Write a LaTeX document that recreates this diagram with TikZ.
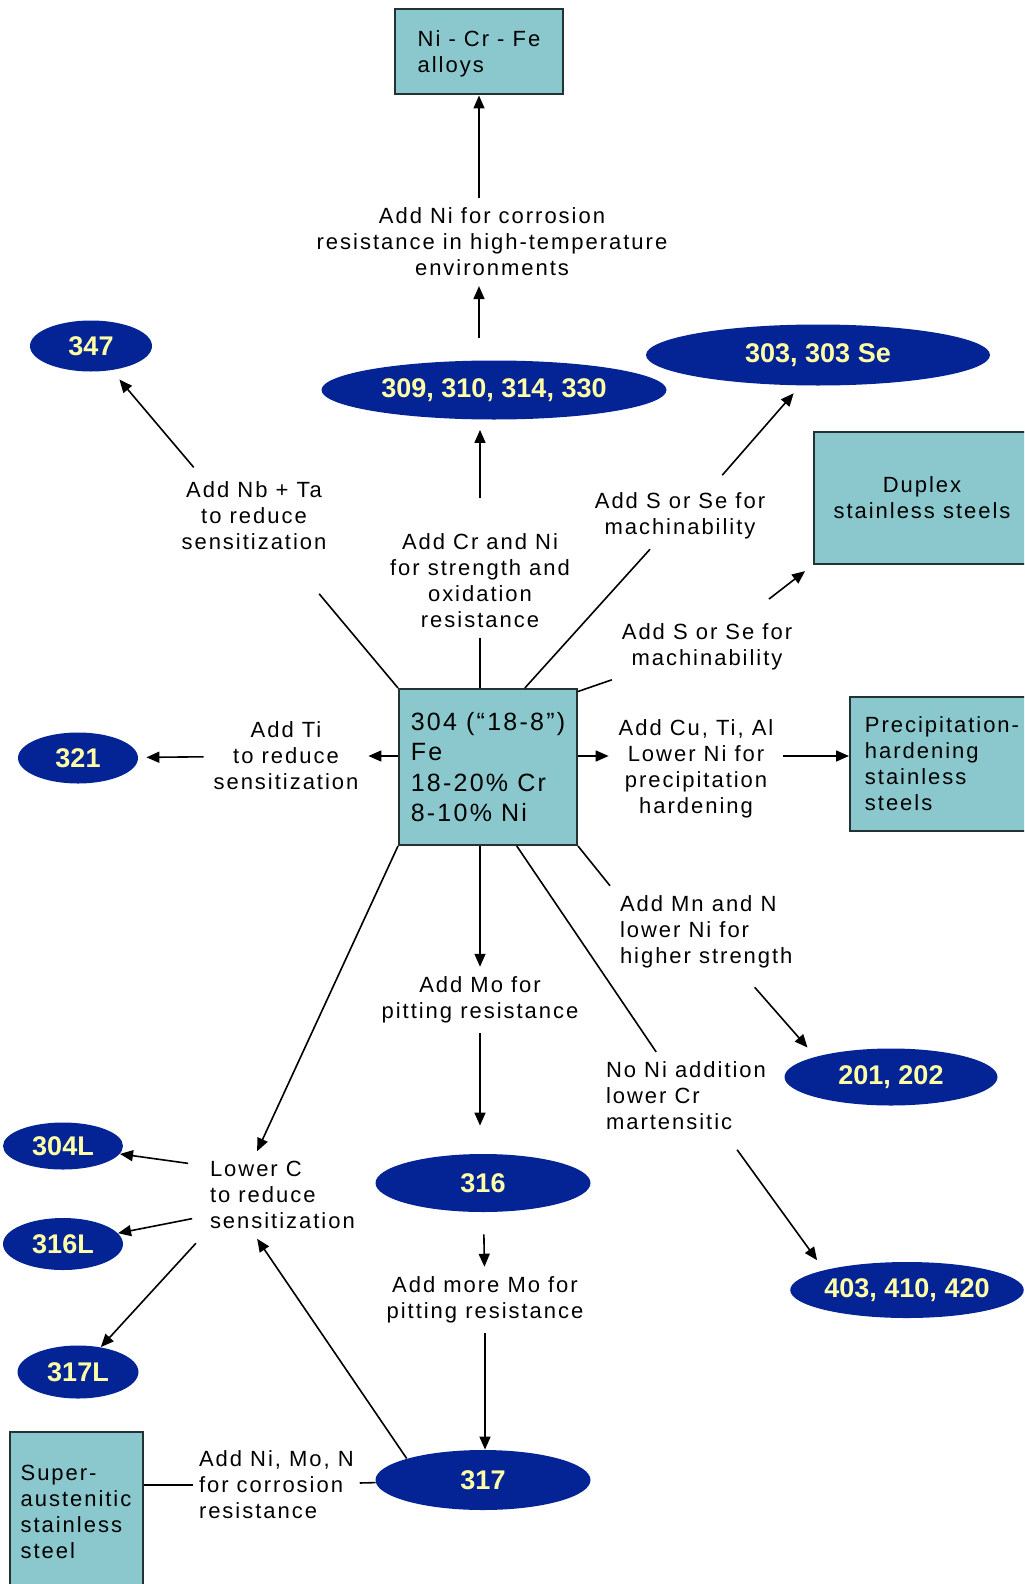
\documentclass[tikz,border=0pt]{standalone}
\usepackage{fontspec}
\setmainfont{Liberation Sans}
\newfontfamily\labfont[LetterSpace=9]{Liberation Sans}
\usetikzlibrary{shapes.geometric,arrows.meta,positioning,calc}
\definecolor{boxfill}{RGB}{138,200,205}
\definecolor{boxline}{RGB}{35,50,50}
\definecolor{navy}{RGB}{4,36,150}
\definecolor{numtext}{RGB}{255,255,165}
\tikzset{
  lab/.style={font=\labfont\fontsize{11}{13}\selectfont, align=center, inner sep=0pt, outer sep=5pt},
  alloy/.style={draw=boxline, fill=boxfill, line width=1pt, font=\labfont\fontsize{11}{13}\selectfont, inner sep=4pt},
  grade/.style={ellipse, fill=navy, text=numtext, font=\bfseries\fontsize{13.5}{15}\selectfont, inner sep=0pt},
  arr/.style={-{Triangle[length=6.5pt,width=5.5pt]}, line width=0.8pt},
  ln/.style={line width=0.8pt}
}
\begin{document}
\begin{tikzpicture}[x=0.5pt, y=-0.5pt]
\clip (0,0) rectangle (1024,1584);
\node[alloy, minimum width=84pt, minimum height=42.5pt, align=left, text depth=-7pt] (ni) at (479,52) {Ni - Cr - Fe\\alloys};
\node[alloy, minimum width=89pt, minimum height=78pt, align=left, font=\labfont\fontsize{12.5}{15.3}\selectfont] (c) at (488,767) {304 (“18-8”)\\Fe\\18-20\% Cr\\8-10\% Ni};
\node[alloy, minimum width=108pt, minimum height=66pt, align=center] (dup) at (922,498) {Duplex\\stainless steels};
\node[alloy, minimum width=92pt, minimum height=67pt, align=left] (pre) at (942,764) {Precipitation-\\hardening\\stainless\\steels};
\node[alloy, minimum width=66.5pt, minimum height=80pt, align=left] (sa) at (76,1512) {Super-\\austenitic\\stainless\\steel};

\node[grade, minimum width=61pt, minimum height=25.5pt] (n347) at (91,346) {347};
\node[grade, minimum width=172.5pt, minimum height=29.5pt] (e309) at (494,390) {309, 310, 314, 330};
\node[grade, minimum width=172pt, minimum height=30.5pt] (e303) at (818,355) {303, 303 Se};
\node[grade, minimum width=60pt, minimum height=25.5pt] (n321) at (78,758) {321};
\node[grade, minimum width=106.5pt, minimum height=28.5pt] (e201) at (891,1077) {201, 202};
\node[grade, minimum width=107.5pt, minimum height=28pt] (e403) at (907,1290) {403, 410, 420};
\node[grade, minimum width=107.5pt, minimum height=29pt] (e316) at (483,1183) {316};
\node[grade, minimum width=107.5pt, minimum height=30pt] (e317) at (483,1480) {317};
\node[grade, minimum width=60pt, minimum height=23.5pt] (e304L) at (63,1146) {304L};
\node[grade, minimum width=60pt, minimum height=26pt] (e316L) at (63,1244) {316L};
\node[grade, minimum width=60.5pt, minimum height=26.5pt] (e317L) at (78,1372) {317L};

\node[lab] (lNi) at (492,242) {Add Ni for corrosion\\resistance in high-temperature\\environments};
\node[lab] (lCrNi) at (480,581) {Add Cr and Ni\\for strength and\\oxidation\\resistance};
\node[lab] (lNb) at (254,516) {Add Nb + Ta\\to reduce\\sensitization};
\node[lab] (lSa) at (680,516) {Add S or Se for\\machinability};
\node[lab] (lSb) at (707,647) {Add S or Se for\\machinability};
\node[lab] (lTi) at (286,756) {Add Ti\\to reduce\\sensitization};
\node[lab] (lCu) at (696,769) {Add Cu, Ti, Al\\Lower Ni for\\precipitation\\hardening};
\node[lab, align=left, anchor=west] (lMn) at (610,932) {Add Mn and N\\lower Ni for\\higher strength};
\node[lab] (lMo) at (480,1000) {Add Mo for\\pitting resistance};
\node[lab, align=left, anchor=west] (lNo) at (596,1096) {No Ni addition\\lower Cr\\martensitic};
\node[lab, align=left, anchor=west] (lC) at (200,1195) {Lower C\\to reduce\\sensitization};
\node[lab] (lMo2) at (485,1300) {Add more Mo for\\pitting resistance};
\node[lab, align=left, anchor=west, outer sep=3pt] (lNiMoN) at (193,1485) {Add Ni, Mo, N\\for corrosion\\resistance};

\draw[arr] (lNi.north -| ni) -- (ni);
\draw[arr, shorten <=11pt] (e309.north -| ni) -- (lNi.south -| ni);
\draw[arr, shorten <=13pt, shorten >=5pt] (lCrNi.north) -- (lCrNi.north |- e309.south);
\draw[ln] (c.north -| lCrNi) -- (lCrNi);
\draw[ln, shorten >=22pt] (c.north west) -- (lNb);
\draw[arr, shorten <=3pt, shorten >=6pt] (lNb.142) -- (n347);
\draw[ln] (c.65) -- (lSa);
\draw[arr, shorten <=5pt, shorten >=5pt] (lSa.43) -- (e303.-120);
\draw[ln] (c.40) -- (lSb);
\draw[arr, shorten <=12pt, shorten >=5pt] (lSb) -- (dup.south west);
\draw[arr] (c.west |- lTi) -- (lTi);
\draw[arr, shorten >=4pt] (lTi) -- (n321);
\draw[arr] (c.east |- lTi) -- (lTi -| lCu.west);
\draw[arr] (lCu.east |- lTi) -- (lTi -| pre.west);
\draw[ln] (c.south east) -- (lMn.north west);
\draw[arr, shorten <=6pt, shorten >=6pt] (lMn) -- (e201.north west);
\draw[ln] (c.-70) -- (lNo);
\draw[arr, shorten <=6pt, shorten >=6pt] (lNo.-45) -- (e403.north west);
\draw[arr] (c.south -| lMo) -- (lMo);
\draw[arr, shorten >=14pt] (lMo) -- (lMo |- e316.north);
\draw[arr] (c.south west) -- (lC.120);
\draw[arr, shorten <=11pt] (e316) -- (lMo2);
\draw[arr] (lMo2) -- (lMo2 |- e317.north);
\draw[arr] (e317.north west) -- (lC.-120);
\draw[arr, shorten <=6pt] (lC.160) -- (e304L);
\draw[arr, shorten <=4pt] (lC.195) -- (e316L);
\draw[arr, shorten <=3pt] (lC.south west) -- (e317L);
\draw[ln] (sa.east |- lNiMoN) -- (lNiMoN);
\draw[ln] (lNiMoN) -- (e317);
\end{tikzpicture}
\end{document}
